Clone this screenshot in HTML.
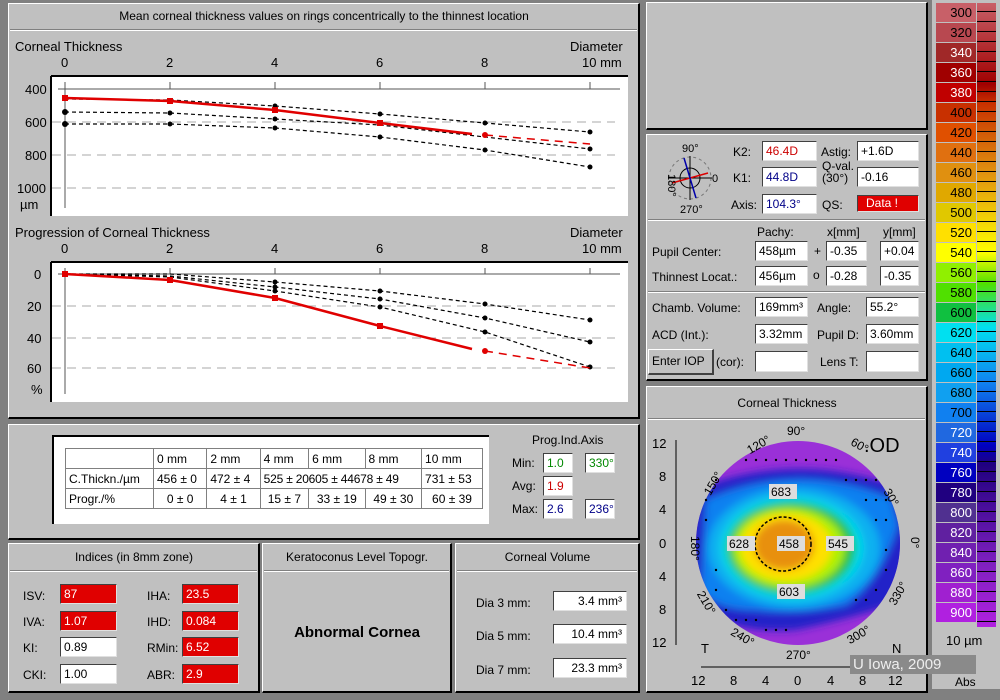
<!DOCTYPE html>
<html><head><meta charset="utf-8"><style>
*{box-sizing:border-box;margin:0;padding:0}
body{width:1000px;height:689px;background:#808080;position:relative;overflow:hidden;font-family:"Liberation Sans",sans-serif;font-size:12px;color:#000}
.p{position:absolute;background:#c0c0c0;border-top:1px solid #fff;border-left:1px solid #fff;border-right:2px solid #000;border-bottom:2px solid #000}
.t{position:absolute;white-space:nowrap}
.b{position:absolute;background:#fff;border-top:1px solid #404040;border-left:1px solid #404040;border-right:1px solid #e0e0e0;border-bottom:1px solid #e0e0e0;padding-left:3px;line-height:18px;font-size:12px;white-space:nowrap}
.r{background:#e00000;color:#fff}
.hl{position:absolute;height:2px;border-top:1px solid #808080;border-bottom:1px solid #fff}
.cb{position:absolute;left:936px;width:40px;height:19px;text-align:right;padding-right:4px;font-size:13px;line-height:19px}
table{border-collapse:collapse;position:absolute;font-size:12px}
td{border:1px solid #808080;height:20px;padding:0 3px;white-space:nowrap}
</style></head><body>

<div class="p" style="left:8px;top:3px;width:632px;height:416px"></div>
<div class="t" style="left:8px;top:9px;width:632px;text-align:center">Mean corneal thickness values on rings concentrically to the thinnest location</div>
<div class="hl" style="left:10px;top:29px;width:627px"></div>

<svg width="1000" height="689" style="position:absolute;left:0;top:0" font-family="Liberation Sans" font-size="12">
<rect x="51" y="76" width="577" height="140" fill="#fff"/>
<path d="M51 76H628M51 76V216" stroke="#000" stroke-width="2" fill="none"/>
<g stroke="#aaa" stroke-dasharray="9,6"><line x1="52" y1="122" x2="615" y2="122"/><line x1="52" y1="155" x2="615" y2="155"/><line x1="52" y1="188" x2="615" y2="188"/></g>
<g stroke="#555"><line x1="58" y1="89" x2="620" y2="89"/><line x1="65" y1="82" x2="65" y2="208"/>
<line x1="170" y1="82" x2="170" y2="89"/><line x1="275" y1="82" x2="275" y2="89"/><line x1="380" y1="82" x2="380" y2="89"/><line x1="485" y1="82" x2="485" y2="89"/><line x1="590" y1="82" x2="590" y2="89"/></g>
<g stroke="#000" stroke-dasharray="4,3" fill="none" stroke-width="1.2">
<polyline points="65,99 170,100 275,106 380,114 485,123 590,132"/>
<polyline points="65,112 170,113 275,119 380,125 485,137 590,149"/>
<polyline points="65,124 170,124 275,128 380,137 485,150 590,167"/></g>
<g fill="#000"><circle cx="65" cy="112" r="3"/><circle cx="65" cy="124" r="3"/><circle cx="170" cy="113" r="2.5"/><circle cx="170" cy="124" r="2.5"/><circle cx="275" cy="106" r="2.5"/><circle cx="275" cy="119" r="2.5"/><circle cx="275" cy="128" r="2.5"/><circle cx="380" cy="114" r="2.5"/><circle cx="380" cy="137" r="2.5"/><circle cx="485" cy="123" r="2.5"/><circle cx="485" cy="150" r="2.5"/><circle cx="590" cy="132" r="2.5"/><circle cx="590" cy="149" r="2.5"/><circle cx="590" cy="167" r="2.5"/></g>
<polyline points="65,98 170,101 275,110 380,123 472,134" stroke="#e00000" stroke-width="2.5" fill="none"/>
<line x1="485" y1="135" x2="590" y2="144" stroke="#e00000" stroke-width="1.5" stroke-dasharray="8,6"/>
<g fill="#e00000"><rect x="62" y="95" width="6" height="6"/><rect x="167" y="98" width="6" height="6"/><rect x="272" y="107" width="6" height="6"/><rect x="377" y="120" width="6" height="6"/><circle cx="485" cy="135" r="3"/></g>
<rect x="51" y="262" width="577" height="140" fill="#fff"/>
<path d="M51 262H628M51 262V402" stroke="#000" stroke-width="2" fill="none"/>
<g stroke="#aaa" stroke-dasharray="9,6"><line x1="52" y1="306" x2="615" y2="306"/><line x1="52" y1="338" x2="615" y2="338"/><line x1="52" y1="368" x2="615" y2="368"/></g>
<g stroke="#555"><line x1="58" y1="274" x2="620" y2="274"/><line x1="65" y1="268" x2="65" y2="394"/>
<line x1="170" y1="268" x2="170" y2="274"/><line x1="275" y1="268" x2="275" y2="274"/><line x1="380" y1="268" x2="380" y2="274"/><line x1="485" y1="268" x2="485" y2="274"/><line x1="590" y1="268" x2="590" y2="274"/></g>
<g stroke="#000" stroke-dasharray="4,3" fill="none" stroke-width="1.2">
<polyline points="65,274 170,274 275,282 380,291 485,304 590,320"/>
<polyline points="65,274 170,276 275,287 380,299 485,318 590,342"/>
<polyline points="65,274 170,277 275,291 380,307 485,332 590,367"/></g>
<g fill="#000"><circle cx="275" cy="282" r="2.5"/><circle cx="275" cy="287" r="2.5"/><circle cx="275" cy="291" r="2.5"/><circle cx="380" cy="291" r="2.5"/><circle cx="380" cy="299" r="2.5"/><circle cx="380" cy="307" r="2.5"/><circle cx="485" cy="304" r="2.5"/><circle cx="485" cy="318" r="2.5"/><circle cx="485" cy="332" r="2.5"/><circle cx="590" cy="320" r="2.5"/><circle cx="590" cy="342" r="2.5"/><circle cx="590" cy="367" r="2.5"/></g>
<polyline points="65,274 170,280 275,298 380,326 472,349" stroke="#e00000" stroke-width="2.5" fill="none"/>
<line x1="485" y1="351" x2="590" y2="368" stroke="#e00000" stroke-width="1.5" stroke-dasharray="8,6"/>
<g fill="#e00000"><rect x="62" y="271" width="6" height="6"/><rect x="167" y="277" width="6" height="6"/><rect x="272" y="295" width="6" height="6"/><rect x="377" y="323" width="6" height="6"/><circle cx="485" cy="351" r="3"/></g>
<g font-size="13">
<text x="15" y="51">Corneal Thickness</text><text x="570" y="51">Diameter</text>
<text x="61" y="67">0</text><text x="166" y="67">2</text><text x="271" y="67">4</text><text x="376" y="67">6</text><text x="481" y="67">8</text><text x="582" y="67">10 mm</text>
<text x="25" y="94">400</text><text x="25" y="127">600</text><text x="25" y="160">800</text><text x="17" y="193">1000</text><text x="20" y="209">µm</text>
<text x="15" y="237">Progression of Corneal Thickness</text><text x="570" y="237">Diameter</text>
<text x="61" y="253">0</text><text x="166" y="253">2</text><text x="271" y="253">4</text><text x="376" y="253">6</text><text x="481" y="253">8</text><text x="582" y="253">10 mm</text>
<text x="34" y="279">0</text><text x="27" y="311">20</text><text x="27" y="343">40</text><text x="27" y="373">60</text><text x="31" y="394">%</text>
</g>
</svg>

<div class="p" style="left:8px;top:424px;width:632px;height:116px"></div>
<div style="position:absolute;left:52px;top:435px;width:437px;height:89px;background:#fff;border-top:2px solid #000;border-left:2px solid #000"></div>
<table style="left:65px;top:448px;width:418px">
<tr><td style="width:88px"></td><td>0 mm</td><td>2 mm</td><td>4 mm</td><td>6 mm</td><td>8 mm</td><td>10 mm</td></tr>
<tr><td>C.Thickn./µm</td><td>456 ± 0</td><td>472 ± 4</td><td colspan="3" style="letter-spacing:-0.2px">525 ± 20605 ± 44678 ± 49</td><td>731 ± 53</td></tr>
<tr><td>Progr./%</td><td style="text-align:center">0 ± 0</td><td style="text-align:center">4 ± 1</td><td style="text-align:center">15 ± 7</td><td style="text-align:center">33 ± 19</td><td style="text-align:center">49 ± 30</td><td style="text-align:center">60 ± 39</td></tr>
</table>
<div class="t" style="left:532px;top:433px">Prog.Ind.Axis</div>
<div class="t" style="left:512px;top:456px">Min:</div><div class="b" style="left:543px;top:453px;width:30px;color:#080">1.0</div><div class="b" style="left:585px;top:453px;width:30px;color:#080">330°</div>
<div class="t" style="left:512px;top:479px">Avg:</div><div class="b" style="left:543px;top:476px;width:30px;color:#c00">1.9</div>
<div class="t" style="left:512px;top:502px">Max:</div><div class="b" style="left:543px;top:499px;width:30px;color:#008">2.6</div><div class="b" style="left:585px;top:499px;width:30px;color:#008">236°</div>

<div class="p" style="left:8px;top:543px;width:252px;height:150px"></div>
<div class="t" style="left:8px;top:550px;width:252px;text-align:center">Indices (in 8mm zone)</div>
<div class="hl" style="left:10px;top:570px;width:247px"></div>
<div class="t" style="left:23px;top:589px">ISV:</div><div class="b r" style="left:60px;top:584px;width:57px">87</div>
<div class="t" style="left:23px;top:615px">IVA:</div><div class="b r" style="left:60px;top:611px;width:57px">1.07</div>
<div class="t" style="left:23px;top:641px">KI:</div><div class="b" style="left:60px;top:637px;width:57px">0.89</div>
<div class="t" style="left:23px;top:668px">CKI:</div><div class="b" style="left:60px;top:664px;width:57px">1.00</div>
<div class="t" style="left:147px;top:589px">IHA:</div><div class="b r" style="left:182px;top:584px;width:57px">23.5</div>
<div class="t" style="left:147px;top:615px">IHD:</div><div class="b r" style="left:182px;top:611px;width:57px">0.084</div>
<div class="t" style="left:147px;top:641px">RMin:</div><div class="b r" style="left:182px;top:637px;width:57px">6.52</div>
<div class="t" style="left:147px;top:668px">ABR:</div><div class="b r" style="left:182px;top:664px;width:57px">2.9</div>

<div class="p" style="left:262px;top:543px;width:190px;height:150px"></div>
<div class="t" style="left:262px;top:550px;width:190px;text-align:center">Keratoconus Level Topogr.</div>
<div class="hl" style="left:264px;top:570px;width:185px"></div>
<div class="t" style="left:262px;top:624px;width:190px;text-align:center;font-weight:bold;font-size:15px">Abnormal Cornea</div>

<div class="p" style="left:455px;top:543px;width:185px;height:150px"></div>
<div class="t" style="left:455px;top:550px;width:185px;text-align:center">Corneal Volume</div>
<div class="hl" style="left:457px;top:570px;width:180px"></div>
<div class="t" style="left:476px;top:596px">Dia 3 mm:</div><div class="b" style="left:553px;top:591px;width:74px;text-align:right;padding-right:4px">3.4 mm³</div>
<div class="t" style="left:476px;top:629px">Dia 5 mm:</div><div class="b" style="left:553px;top:624px;width:74px;text-align:right;padding-right:4px">10.4 mm³</div>
<div class="t" style="left:476px;top:663px">Dia 7 mm:</div><div class="b" style="left:553px;top:658px;width:74px;text-align:right;padding-right:4px">23.3 mm³</div>

<div class="p" style="left:646px;top:2px;width:282px;height:128px"></div>

<div class="p" style="left:646px;top:134px;width:282px;height:247px"></div>
<svg width="60" height="80" style="position:absolute;left:658px;top:138px" font-family="Liberation Sans" font-size="11">
<circle cx="32" cy="40" r="21" fill="none" stroke="#777" stroke-dasharray="3,3"/>
<circle cx="32" cy="40" r="10" fill="none" stroke="#000"/>
<line x1="10" y1="40" x2="54" y2="40" stroke="#000"/><line x1="32" y1="18" x2="32" y2="62" stroke="#000"/>
<line x1="14" y1="45" x2="50" y2="35" stroke="#d00" stroke-width="1.5"/>
<line x1="26" y1="20" x2="38" y2="60" stroke="#00a" stroke-width="1.5"/>
<text x="24" y="14">90°</text><text x="22" y="75">270°</text><text x="54" y="44">0</text>
<text x="2" y="36" transform="rotate(90 6 40)">180°</text>
</svg>
<div class="t" style="left:733px;top:145px">K2:</div><div class="b" style="left:762px;top:141px;width:55px;color:#c00">46.4D</div>
<div class="t" style="left:733px;top:171px">K1:</div><div class="b" style="left:762px;top:167px;width:55px;color:#008">44.8D</div>
<div class="t" style="left:731px;top:198px">Axis:</div><div class="b" style="left:762px;top:194px;width:55px;color:#008">104.3°</div>
<div class="t" style="left:821px;top:145px">Astig:</div><div class="b" style="left:857px;top:141px;width:62px">+1.6D</div>
<div class="t" style="left:822px;top:160px;line-height:12px">Q-val.<br>(30°)</div><div class="b" style="left:857px;top:167px;width:62px">-0.16</div>
<div class="t" style="left:822px;top:198px">QS:</div><div class="b r" style="left:857px;top:195px;width:62px;padding-left:8px;line-height:15px;height:17px">Data !</div>
<div class="hl" style="left:648px;top:219px;width:277px"></div>
<div class="t" style="left:757px;top:225px">Pachy:</div><div class="t" style="left:827px;top:225px">x[mm]</div><div class="t" style="left:883px;top:225px">y[mm]</div>
<div class="t" style="left:652px;top:245px">Pupil Center:</div><div class="b" style="left:755px;top:241px;width:53px">458µm</div><div class="t" style="left:814px;top:244px">+</div><div class="b" style="left:826px;top:241px;width:41px">-0.35</div><div class="b" style="left:880px;top:241px;width:39px">+0.04</div>
<div class="t" style="left:652px;top:270px">Thinnest Locat.:</div><div class="b" style="left:755px;top:266px;width:53px">456µm</div><div class="t" style="left:813px;top:268px">o</div><div class="b" style="left:826px;top:266px;width:41px">-0.28</div><div class="b" style="left:880px;top:266px;width:39px">-0.35</div>
<div class="hl" style="left:648px;top:291px;width:277px"></div>
<div class="t" style="left:652px;top:301px">Chamb. Volume:</div><div class="b" style="left:755px;top:297px;width:53px">169mm³</div><div class="t" style="left:817px;top:301px">Angle:</div><div class="b" style="left:866px;top:297px;width:53px">55.2°</div>
<div class="t" style="left:652px;top:328px">ACD (Int.):</div><div class="b" style="left:755px;top:324px;width:53px">3.32mm</div><div class="t" style="left:817px;top:328px">Pupil D:</div><div class="b" style="left:866px;top:324px;width:53px">3.60mm</div>
<div style="position:absolute;left:648px;top:349px;width:66px;height:26px;background:#c0c0c0;border-top:1px solid #fff;border-left:1px solid #fff;border-right:2px solid #404040;border-bottom:2px solid #404040;line-height:22px;padding-left:3px">Enter IOP</div>
<div class="t" style="left:716px;top:355px">(cor):</div><div class="b" style="left:755px;top:351px;width:53px;height:21px"></div>
<div class="t" style="left:820px;top:355px">Lens T:</div><div class="b" style="left:866px;top:351px;width:53px;height:21px"></div>

<div class="p" style="left:646px;top:386px;width:282px;height:307px"></div>
<div class="t" style="left:646px;top:396px;width:282px;text-align:center">Corneal Thickness</div>
<div class="hl" style="left:648px;top:418px;width:277px"></div>
<svg width="282" height="280" style="position:absolute;left:646px;top:420px" font-family="Liberation Sans" font-size="13">
<defs>
<clipPath id="c"><circle cx="152" cy="123" r="102"/></clipPath>
<filter id="bl" x="-50%" y="-50%" width="200%" height="200%"><feGaussianBlur stdDeviation="4"/></filter>
</defs>
<g clip-path="url(#c)">
<rect x="40" y="10" width="230" height="230" fill="#9a30d8"/>
<g filter="url(#bl)">
<path d="M48 70 Q150 28 262 70 L262 180 Q200 200 150 210 Q80 215 42 180Z" fill="#2020c8"/>
<path d="M60 80 Q150 40 245 78 L252 105 Q235 160 200 185 Q150 195 110 190 Q70 190 55 170Z" fill="#1080f0"/>
<ellipse cx="148" cy="128" rx="86" ry="60" fill="#10b0f0"/>
<ellipse cx="146" cy="128" rx="72" ry="52" fill="#00d8e8"/>
<ellipse cx="145" cy="128" rx="64" ry="46" fill="#20c040"/>
<ellipse cx="143" cy="128" rx="56" ry="40" fill="#b0f000"/>
<ellipse cx="140" cy="127" rx="46" ry="34" fill="#ffe000"/>
<ellipse cx="138" cy="125" rx="30" ry="25" fill="#e89010"/>
</g>
</g>
<ellipse cx="137" cy="124" rx="28" ry="27" fill="none" stroke="#000" stroke-dasharray="3,2" stroke-width="1.5"/>
<g fill="#000">
<circle cx="100" cy="40" r="1.2"/><circle cx="110" cy="40" r="1.2"/><circle cx="120" cy="40" r="1.2"/><circle cx="130" cy="40" r="1.2"/><circle cx="140" cy="40" r="1.2"/><circle cx="150" cy="40" r="1.2"/><circle cx="160" cy="40" r="1.2"/><circle cx="170" cy="40" r="1.2"/><circle cx="180" cy="40" r="1.2"/><circle cx="190" cy="40" r="1.2"/>
<circle cx="200" cy="60" r="1.2"/><circle cx="210" cy="60" r="1.2"/><circle cx="220" cy="60" r="1.2"/><circle cx="230" cy="60" r="1.2"/><circle cx="220" cy="80" r="1.2"/><circle cx="230" cy="80" r="1.2"/><circle cx="240" cy="80" r="1.2"/><circle cx="230" cy="100" r="1.2"/><circle cx="240" cy="100" r="1.2"/><circle cx="240" cy="130" r="1.2"/><circle cx="240" cy="150" r="1.2"/><circle cx="230" cy="170" r="1.2"/><circle cx="220" cy="180" r="1.2"/><circle cx="210" cy="180" r="1.2"/>
<circle cx="70" cy="150" r="1.2"/><circle cx="70" cy="170" r="1.2"/><circle cx="80" cy="190" r="1.2"/><circle cx="90" cy="200" r="1.2"/><circle cx="100" cy="200" r="1.2"/><circle cx="110" cy="200" r="1.2"/><circle cx="120" cy="210" r="1.2"/><circle cx="130" cy="210" r="1.2"/><circle cx="140" cy="210" r="1.2"/><circle cx="60" cy="100" r="1.2"/><circle cx="60" cy="80" r="1.2"/><circle cx="70" cy="60" r="1.2"/>
</g>
<g font-size="12">
<rect x="123" y="64" width="28" height="15" fill="#ddd"/><text x="125" y="76">683</text>
<rect x="81" y="116" width="28" height="15" fill="#ddd"/><text x="83" y="128">628</text>
<rect x="131" y="116" width="28" height="15" fill="#ddd"/><text x="133" y="128">458</text>
<rect x="180" y="116" width="28" height="15" fill="#ddd"/><text x="182" y="128">545</text>
<rect x="131" y="164" width="28" height="15" fill="#ddd"/><text x="133" y="176">603</text>
</g>
<g font-size="12">
<text x="141" y="15">90°</text><text x="100" y="30" transform="rotate(-30 110 25)">120°</text><text x="205" y="30" transform="rotate(30 215 25)">60°</text>
<text x="218" y="32" font-size="20">.OD</text>
<text x="55" y="70" transform="rotate(-60 65 65)">150°</text><text x="238" y="80" transform="rotate(60 245 75)">30°</text>
<text x="33" y="118" transform="rotate(90 40 123)">180°</text><text x="256" y="120" transform="rotate(90 262 123)">0°</text>
<text x="50" y="185" transform="rotate(60 60 180)">210°</text><text x="240" y="180" transform="rotate(-60 250 175)">330°</text>
<text x="85" y="220" transform="rotate(30 95 215)">240°</text><text x="200" y="220" transform="rotate(-30 210 215)">300°</text>
<text x="140" y="239">270°</text>
</g>
<g font-size="13">
<text x="6" y="28">12</text><text x="13" y="61">8</text><text x="13" y="94">4</text><text x="13" y="128">0</text><text x="13" y="161">4</text><text x="13" y="194">8</text><text x="6" y="227">12</text>
<text x="55" y="233">T</text><text x="246" y="233">N</text>
<text x="45" y="265">12</text><text x="84" y="265">8</text><text x="116" y="265">4</text><text x="148" y="265">0</text><text x="181" y="265">4</text><text x="213" y="265">8</text><text x="242" y="265">12</text>
</g>
<g stroke="#000"><line x1="30" y1="20" x2="30" y2="225"/><line x1="55" y1="247" x2="255" y2="247"/></g>
</svg>

<div style="position:absolute;left:932px;top:0;width:68px;height:689px;background:#c0c0c0"></div>
<div style="position:absolute;left:977px;top:3px;width:19px;height:624px;background:linear-gradient(#c86068,#a00000 13%,#c83000 16%,#e09010 27%,#ffff00 40%,#50e000 45%,#00e0f0 52%,#1080f0 61%,#0000c0 71%,#200080 74%,#8020c0 90%,#b020e0)"></div>
<div style="position:absolute;left:977px;top:3px;width:19px;height:624px;background:repeating-linear-gradient(transparent 0 8px,#000 8px 9px,transparent 9px 10px)"></div>
<div class="cb" style="top:3px;background:#c86068">300</div>
<div class="cb" style="top:23px;background:#b84850">320</div>
<div class="cb" style="top:43px;background:#a02828;color:#fff">340</div>
<div class="cb" style="top:63px;background:#a00000;color:#fff">360</div>
<div class="cb" style="top:83px;background:#c00000;color:#fff">380</div>
<div class="cb" style="top:103px;background:#c83000">400</div>
<div class="cb" style="top:123px;background:#e05000">420</div>
<div class="cb" style="top:143px;background:#e07010">440</div>
<div class="cb" style="top:163px;background:#e09010">460</div>
<div class="cb" style="top:183px;background:#e0a800">480</div>
<div class="cb" style="top:203px;background:#e0c800">500</div>
<div class="cb" style="top:223px;background:#ffe000">520</div>
<div class="cb" style="top:243px;background:#ffff00">540</div>
<div class="cb" style="top:263px;background:#90f000">560</div>
<div class="cb" style="top:283px;background:#50e000">580</div>
<div class="cb" style="top:303px;background:#10c040">600</div>
<div class="cb" style="top:323px;background:#00e0f0">620</div>
<div class="cb" style="top:343px;background:#00c0f0">640</div>
<div class="cb" style="top:363px;background:#00a8f0">660</div>
<div class="cb" style="top:383px;background:#10a0f0">680</div>
<div class="cb" style="top:403px;background:#1080f0">700</div>
<div class="cb" style="top:423px;background:#2068e0;color:#fff">720</div>
<div class="cb" style="top:443px;background:#2040e0;color:#fff">740</div>
<div class="cb" style="top:463px;background:#0000c0;color:#fff">760</div>
<div class="cb" style="top:483px;background:#200080;color:#fff">780</div>
<div class="cb" style="top:503px;background:#503090;color:#fff">800</div>
<div class="cb" style="top:523px;background:#6020a0;color:#fff">820</div>
<div class="cb" style="top:543px;background:#7020b0;color:#fff">840</div>
<div class="cb" style="top:563px;background:#8020c0;color:#fff">860</div>
<div class="cb" style="top:583px;background:#a020d0;color:#fff">880</div>
<div class="cb" style="top:603px;background:#b020e0;color:#fff">900</div>
<div class="t" style="left:946px;top:633px;font-size:13px">10 µm</div>
<div class="t" style="left:955px;top:675px;font-size:12px">Abs</div>
<div class="t" style="left:850px;top:655px;width:126px;height:19px;background:#8a8a8a;color:#eee;font-family:'Liberation Sans',sans-serif;font-size:15px;line-height:19px;padding-left:3px;z-index:5">U Iowa, 2009</div>
</body></html>
